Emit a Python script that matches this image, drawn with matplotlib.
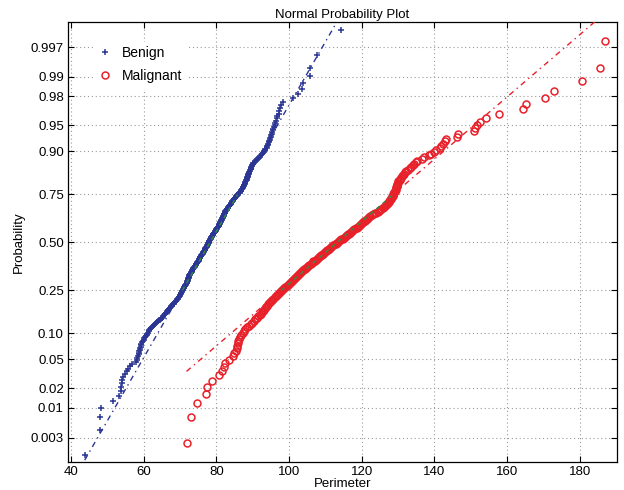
import numpy as np
import matplotlib.pyplot as plt
from statistics import NormalDist

# perimeter values (sorted)
benign = [
    43.8, 47.9, 48.0, 48.3, 51.5, 53.1, 53.8, 53.9, 54.0, 54.1,
    54.4, 54.9, 55.4, 55.8, 56.2, 56.7, 58.0, 58.1, 58.3, 58.5,
    58.6, 58.7, 58.8, 59.0, 59.1, 59.2, 59.3, 59.4, 59.6, 59.8,
    60.0, 60.2, 60.4, 60.6, 60.8, 61.0, 61.2, 61.4, 61.6, 61.8,
    62.0, 62.3, 62.6, 62.9, 63.1, 63.4, 63.7, 64.0, 64.2, 64.5,
    64.7, 65.0, 65.2, 65.4, 65.6, 65.8, 65.9, 66.1, 66.3, 66.5,
    66.6, 66.8, 67.0, 67.2, 67.4, 67.6, 67.7, 67.9, 68.1, 68.3,
    68.4, 68.6, 68.8, 68.9, 69.1, 69.2, 69.4, 69.5, 69.7, 69.8,
    69.9, 70.0, 70.1, 70.2, 70.3, 70.4, 70.5, 70.5, 70.6, 70.7,
    70.8, 70.9, 71.0, 71.1, 71.2, 71.3, 71.4, 71.5, 71.6, 71.7,
    71.8, 71.8, 71.9, 72.0, 72.0, 72.1, 72.2, 72.2, 72.3, 72.3,
    72.4, 72.4, 72.5, 72.6, 72.6, 72.7, 72.8, 72.8, 72.9, 73.0,
    73.1, 73.2, 73.3, 73.4, 73.4, 73.5, 73.6, 73.7, 73.8, 73.9,
    74.0, 74.1, 74.2, 74.3, 74.4, 74.4, 74.5, 74.6, 74.7, 74.8,
    74.9, 75.0, 75.1, 75.2, 75.2, 75.3, 75.4, 75.5, 75.5, 75.6,
    75.7, 75.8, 75.9, 76.0, 76.1, 76.2, 76.2, 76.3, 76.4, 76.5,
    76.6, 76.7, 76.8, 76.8, 76.9, 77.0, 77.0, 77.1, 77.2, 77.3,
    77.4, 77.4, 77.5, 77.6, 77.7, 77.7, 77.8, 77.9, 77.9, 78.0,
    78.1, 78.1, 78.2, 78.3, 78.3, 78.4, 78.5, 78.5, 78.6, 78.7,
    78.8, 78.9, 79.0, 79.1, 79.1, 79.2, 79.3, 79.4, 79.5, 79.6,
    79.7, 79.8, 79.9, 80.0, 80.0, 80.1, 80.2, 80.3, 80.4, 80.5,
    80.6, 80.6, 80.7, 80.8, 80.8, 80.9, 81.0, 81.0, 81.1, 81.2,
    81.3, 81.3, 81.4, 81.5, 81.5, 81.6, 81.7, 81.7, 81.8, 81.9,
    82.0, 82.0, 82.1, 82.2, 82.2, 82.3, 82.4, 82.4, 82.5, 82.6,
    82.7, 82.8, 82.9, 83.0, 83.1, 83.2, 83.3, 83.4, 83.6, 83.7,
    83.8, 83.9, 84.0, 84.1, 84.2, 84.3, 84.4, 84.5, 84.6, 84.8,
    84.9, 85.0, 85.2, 85.3, 85.4, 85.6, 85.7, 85.8, 86.0, 86.2,
    86.4, 86.5, 86.7, 86.8, 86.9, 87.0, 87.1, 87.2, 87.3, 87.4,
    87.5, 87.6, 87.7, 87.8, 87.9, 88.0, 88.0, 88.1, 88.2, 88.3,
    88.4, 88.5, 88.5, 88.6, 88.7, 88.8, 88.8, 88.9, 89.0, 89.1,
    89.2, 89.3, 89.4, 89.5, 89.5, 89.6, 89.7, 89.8, 90.0, 90.2,
    90.5, 90.8, 91.0, 91.3, 91.6, 91.9, 92.1, 92.3, 92.5, 92.7,
    93.0, 93.2, 93.4, 93.5, 93.8, 93.9, 94.1, 94.2, 94.4, 94.5,
    94.7, 94.8, 94.9, 95.0, 95.2, 95.3, 95.5, 95.6, 95.8, 96.0,
    96.2, 96.4, 96.6, 96.8, 97.1, 97.3, 97.6, 97.9, 98.2,
    101.1, 102.5, 103.5, 103.9, 105.7, 105.8, 107.8, 114.3,
]

malignant = [
    71.8, 72.9, 74.6, 77.1, 77.5, 78.7, 80.8, 81.5, 82.2, 82.4, 83.5, 84.6,
    84.9, 85.3, 85.6, 85.8, 85.9, 86.0, 86.2, 86.5,
    86.9, 87.3, 87.6, 88.0, 88.4, 88.9, 89.4, 89.8, 90.3, 90.7,
    91.1, 91.5, 92.0, 92.3, 92.6, 92.8, 93.1, 93.4, 93.6, 93.9,
    94.1, 94.4, 94.8, 95.1, 95.4, 95.7, 96.0, 96.3, 96.6, 96.9,
    97.1, 97.4, 97.7, 98.0, 98.3, 98.6, 98.9, 99.3, 99.6, 99.9,
    100.2, 100.5, 100.8, 101.0, 101.3, 101.6, 101.9, 102.2, 102.4, 102.7,
    103.0, 103.3, 103.6, 103.8, 104.1, 104.4, 104.7, 105.0, 105.3, 105.6,
    105.9, 106.2, 106.5, 106.7, 107.0, 107.3, 107.6, 107.9, 108.2, 108.5,
    108.8, 109.1, 109.4, 109.6, 109.9, 110.1, 110.4, 110.7, 111.0, 111.3,
    111.6, 111.9, 112.2, 112.6, 112.9, 113.2, 113.5, 113.8, 114.1, 114.4,
    114.7, 115.0, 115.3, 115.6, 115.9, 116.2, 116.5, 116.8, 117.1, 117.4,
    117.7, 118.0, 118.3, 118.6, 118.9, 119.2, 119.5, 119.8, 120.1, 120.4,
    120.7, 121.0, 121.3, 121.5, 121.8, 122.1, 122.4, 122.8, 123.2, 123.6,
    124.0, 124.4, 124.8, 125.1, 125.4, 125.8, 126.1, 126.5, 126.8, 127.0,
    127.2, 127.4, 127.6, 127.8, 128.0, 128.1, 128.3, 128.5, 128.6, 128.7,
    128.9, 129.0, 129.1, 129.3, 129.4, 129.5, 129.6, 129.7, 129.8, 129.9,
    130.1, 130.4, 130.6, 130.9, 131.2, 131.4, 131.7, 132.0, 132.2, 132.6,
    133.2, 133.6, 134.0, 134.4, 134.8, 135.3, 136.5, 137.2, 138.5, 139.0,
    140.0, 140.3, 141.5, 141.8, 142.4, 142.9, 143.3, 146.2, 146.4, 151.0,
    151.1, 151.7, 152.5, 154.1, 157.7, 164.3, 165.1, 170.3, 172.9, 180.7,
    185.5, 186.9,
]

prob_ticks = [0.003, 0.01, 0.02, 0.05, 0.10, 0.25, 0.50, 0.75, 0.90, 0.95, 0.98, 0.99, 0.997]
prob_labels = ['0.003', '0.01', '0.02', '0.05', '0.10', '0.25', '0.50',
               '0.75', '0.90', '0.95', '0.98', '0.99', '0.997']

nd = NormalDist()


def normplot(ax, vals, marker, color, label, ms, mew):
    x = np.sort(np.array(vals))
    n = len(x)
    z = np.array([nd.inv_cdf((i + 0.5) / n) for i in range(n)])
    ax.plot(x, z, marker, color=color, ms=ms, mew=mew, mfc='none',
            linestyle='none', label=label, zorder=2)
    # reference line through the quartiles
    q1, q3 = np.percentile(x, [25, 75], method='hazen')
    z1, z3 = nd.inv_cdf(0.25), nd.inv_cdf(0.75)
    k = (z3 - z1) / (q3 - q1)
    zl = lambda v: z1 + k * (v - q1)
    ax.plot([q1, q3], [zl(q1), zl(q3)], color='#2f8f3f', lw=1.0,
            linestyle=(0, (3, 3)), zorder=3)
    for a, b in [(x.min(), q1), (q3, x.max())]:
        ax.plot([a, b], [zl(a), zl(b)], color=color, lw=1.0,
                linestyle=(0, (4, 3, 1, 3)), zorder=3)


plt.rcParams['font.family'] = ['Liberation Sans', 'DejaVu Sans']
plt.rcParams['font.size'] = 9.5

fig = plt.figure(figsize=(6.24, 4.9), dpi=100)
ax = fig.add_axes([68 / 624, 28 / 490, 549 / 624, 440 / 490])

normplot(ax, benign, '+', '#2b3593', 'Benign', 5, 1.1)
normplot(ax, malignant, 'o', '#e8202a', 'Malignant', 5, 1.1)

ax.set_xlim(39.2, 190.2)
ax.set_ylim(-3.09, 3.10)
ax.set_xticks(range(40, 181, 20))
ax.set_yticks([nd.inv_cdf(p) for p in prob_ticks])
ax.set_yticklabels(prob_labels)
ax.grid(True, linestyle=(0, (1, 2.5)), color='#9a9a9a', linewidth=0.8)
ax.tick_params(direction='in', top=True, right=True, length=4, width=0.8, pad=3)
for s in ax.spines.values():
    s.set_linewidth(0.9)

ax.set_title('Normal Probability Plot', fontsize=9.5, pad=3)
ax.set_xlabel('Perimeter', labelpad=0)
ax.set_ylabel('Probability', labelpad=4)

leg = ax.legend(loc='upper left', bbox_to_anchor=(0.035, 0.97), frameon=True,
                fancybox=False, edgecolor='white', facecolor='white', framealpha=1,
                handlelength=1.0, handletextpad=0.7, labelspacing=0.65,
                fontsize=10, borderpad=0.3)

fig.savefig('out.png', dpi=100)
